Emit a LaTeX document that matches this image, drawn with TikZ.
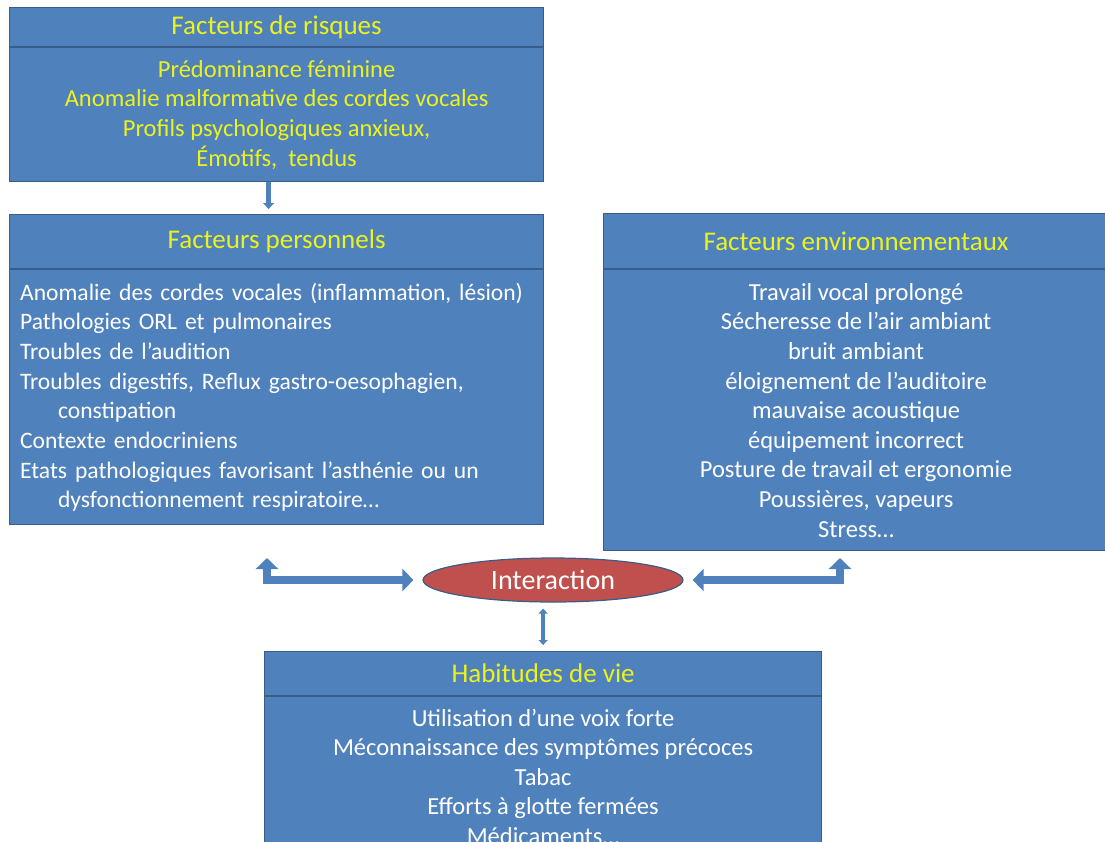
\documentclass[tikz,border=0pt]{standalone}
\usepackage{fontspec}
\setmainfont{Carlito}
\usetikzlibrary{positioning,arrows.meta,shapes.geometric}
\definecolor{boxblue}{RGB}{79,129,189}
\definecolor{edgeblue}{RGB}{56,93,138}
\definecolor{titleyellow}{RGB}{236,242,28}
\definecolor{interred}{RGB}{192,80,77}

\begin{document}
\begin{tikzpicture}[x=1pt,y=-1pt,
  hdr/.style={draw=edgeblue, line width=1.2pt, fill=boxblue, text=titleyellow, anchor=north west, inner sep=0pt, font=\fontsize{27}{30}\selectfont},
  body/.style={draw=edgeblue, line width=1.2pt, fill=boxblue, text=white, inner sep=0pt, align=center, font=\fontsize{24.5}{29.6}\selectfont},
  interact/.style={ellipse, draw=edgeblue, line width=1.2pt, fill=interred, text=white, inner sep=0pt, minimum width=260pt, minimum height=44pt, font=\fontsize{28}{30}\selectfont},
  bigarrow/.style={draw=boxblue, line width=8pt, {Triangle[width=22pt,length=11pt]}-{Triangle[width=22pt,length=11pt]}},
  thinarrow/.style={draw=boxblue, line width=5pt, -{Triangle[width=11pt,length=6pt]}},
  smallarrow/.style={draw=boxblue, line width=4pt, {Triangle[width=9pt,length=5pt]}-{Triangle[width=9pt,length=5pt]}}]
\useasboundingbox (0,0) rectangle (1105,841);

\node (risqT) [hdr, minimum width=534pt, minimum height=39pt] at (9,7) {Facteurs de risques};
\node (risqB) [body, text=titleyellow, minimum width=534pt, minimum height=134pt, below=0pt of risqT] {Prédominance féminine\\Anomalie malformative des cordes vocales\\Profils psychologiques anxieux,\\Émotifs,\ \ tendus};

\node (persT) [hdr, minimum width=534pt, minimum height=54pt] at (9,214) {Facteurs personnels};
\node (persB) [body, align=left, text width=513pt, inner xsep=10.5pt, minimum height=255pt, font=\fontsize{23.6}{29.7}\selectfont, below=0pt of persT] {Anomalie des cordes vocales (inflammation, lésion)\\
Pathologies ORL et pulmonaires\\
Troubles de l’audition\\
Troubles digestifs, Reflux gastro-oesophagien,\\
\hspace*{38pt}constipation\\
Contexte endocriniens\\
Etats pathologiques favorisant l’asthénie ou un\\
\hspace*{38pt}dysfonctionnement respiratoire…};

\node (envT) [hdr, minimum width=505pt, minimum height=55pt] at (603,213) {Facteurs environnementaux};
\node (envB) [body, minimum width=505pt, minimum height=281pt, below=0pt of envT] {Travail vocal prolongé\\Sécheresse de l’air ambiant\\bruit ambiant\\éloignement de l’auditoire\\mauvaise acoustique\\équipement incorrect\\Posture de travail et ergonomie\\Poussières, vapeurs\\Stress…};

\node (inter) [interact] at (553,580) {Interaction};

\node (habT) [hdr, minimum width=557pt, minimum height=44pt] at (264,651) {Habitudes de vie};
\node (habB) [body, minimum width=557pt, minimum height=160pt, below=0pt of habT] {Utilisation d’une voix forte\\Méconnaissance des symptômes précoces\\Tabac\\Efforts à glotte fermées\\Médicaments…};

\coordinate (persUp) at (267,558);
\coordinate (envUp) at (840,558);
\draw [thinarrow, shorten >=5pt] ([xshift=-8pt]risqB.south) -- ([xshift=-8pt]persT.north);
\draw [bigarrow, shorten >=9pt] (persUp) |- (inter);
\draw [bigarrow, shorten >=9pt] (envUp) |- (inter);
\draw [smallarrow, shorten <=6pt, shorten >=6pt] (habT.north |- inter.south) -- (habT.north);
\end{tikzpicture}
\end{document}
